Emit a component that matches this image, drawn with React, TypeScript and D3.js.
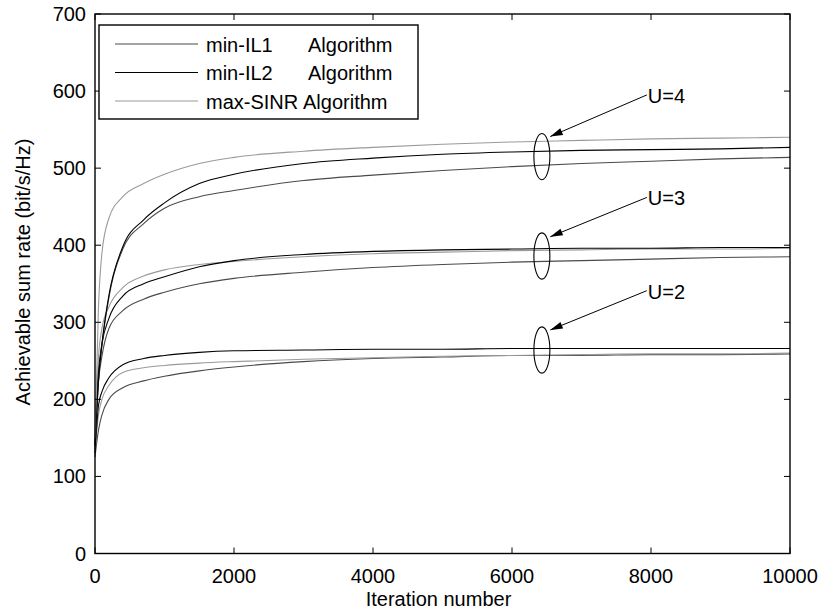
import * as d3 from "d3";

const W = 820;
const H = 611;

// iterations shared by all curves
const ITER = [0, 50, 100, 200, 400, 700, 1000, 1500, 2000, 3000, 4000, 5000, 6000, 7000, 8000, 9000, 10000];

// U = 4
const u4Sinr = [150, 320, 390, 435, 463, 480, 492, 506, 514, 522, 527, 531, 534, 536, 538, 539, 540];
const u4Il2 = [140, 225, 272, 335, 398, 433, 455, 480, 492, 506, 513, 518, 521, 523, 524, 525, 527];
const u4Il1 = [140, 224, 270, 332, 395, 428, 448, 463, 471, 484, 491, 497, 502, 506, 509, 512, 514];
// U = 3
const u3Sinr = [150, 255, 292, 320, 345, 360, 368, 375, 379, 385, 389, 391, 393, 394, 395, 395, 396];
const u3Il2 = [140, 235, 272, 305, 334, 350, 359, 372, 380, 388, 392, 394, 395, 396, 396, 397, 397];
const u3Il1 = [135, 222, 256, 292, 315, 330, 339, 350, 357, 365, 371, 375, 378, 380, 382, 384, 385];
// U = 2
const u2Sinr = [130, 180, 200, 218, 235, 241, 244, 247, 249, 252, 254, 256, 257, 258, 259, 259, 260];
const u2Il2 = [130, 192, 210, 228, 245, 253, 257, 261, 263, 264, 265, 265, 266, 266, 266, 266, 266];
const u2Il1 = [125, 160, 180, 200, 215, 224, 230, 237, 242, 249, 253, 255, 257, 257, 258, 258, 259];

const xTicks = [0, 2000, 4000, 6000, 8000, 10000];
const yTicks = [0, 100, 200, 300, 400, 500, 600, 700];

const algoNames = ["min-IL1", "min-IL2", "max-SINR"];
const algoColors = ["#4a4a4a", "#000000", "#9a9a9a"];

// annotation: label, label anchor (iter, value), arrow tip, ellipse centre value
const groupLabels = ["U=4", "U=3", "U=2"];
const labelVals = [595, 462, 341];
const tipVals = [541, 411, 290];
const ellipseVals = [515, 386, 264];
const labelIter = 7940;
const tipIter = 6550;
const ellipseIter = 6430;

const margin = { left: 95, right: 30, top: 14, bottom: 58 };

export default function App() {
  const x = d3.scaleLinear().domain([0, 10000]).range([margin.left, W - margin.right]);
  const y = d3.scaleLinear().domain([0, 700]).range([H - margin.bottom + 0.5, margin.top]);
  const line = d3
    .line<number>()
    .x((_, i) => x(ITER[i]))
    .y((d) => y(d))
    .curve(d3.curveMonotoneX);

  const series = [
    { v: u2Il1, c: 0 }, { v: u2Sinr, c: 2 }, { v: u2Il2, c: 1 },
    { v: u3Il1, c: 0 }, { v: u3Sinr, c: 2 }, { v: u3Il2, c: 1 },
    { v: u4Il1, c: 0 }, { v: u4Il2, c: 1 }, { v: u4Sinr, c: 2 },
  ];

  const x0 = x(0), x1 = x(10000), y0 = y(0), y1 = y(700);
  const tk = 6;
  const font = "'Liberation Sans', Arial, sans-serif";
  const ry = Math.abs(y(0) - y(30));

  return (
    <svg width={W} height={H} style={{ position: "absolute", left: 0, top: 0, background: "#fff" }} fontFamily={font}>
      <rect width={W} height={H} fill="#fff" />
      {series.map((s, i) => (
        <path key={i} d={line(s.v) || ""} fill="none" stroke={algoColors[s.c]} strokeWidth={1.1} />
      ))}

      {/* axes box + inward ticks */}
      <rect x={x0} y={y1} width={x1 - x0} height={y0 - y1} fill="none" stroke="#000" strokeWidth={1.4} />
      {xTicks.map((t) => (
        <g key={"x" + t}>
          <line x1={x(t)} x2={x(t)} y1={y0} y2={y0 - tk} stroke="#000" />
          <line x1={x(t)} x2={x(t)} y1={y1} y2={y1 + tk} stroke="#000" />
          <text x={x(t)} y={y0 + 29} fontSize={20} textAnchor="middle">{t}</text>
        </g>
      ))}
      {yTicks.map((t) => (
        <g key={"y" + t}>
          <line x1={x0} x2={x0 + tk} y1={y(t)} y2={y(t)} stroke="#000" />
          <line x1={x1} x2={x1 - tk} y1={y(t)} y2={y(t)} stroke="#000" />
          <text x={x0 - 9} y={y(t) + 7} fontSize={20} textAnchor="end">{t}</text>
        </g>
      ))}
      <text x={(x0 + x1) / 2 - 4} y={606} fontSize={20} textAnchor="middle">Iteration number</text>
      <text transform={`translate(30, 272) rotate(-90)`} fontSize={20} textAnchor="middle">
        Achievable sum rate (bit/s/Hz)
      </text>

      {/* group annotations */}
      {groupLabels.map((g, i) => {
        const tx = x(tipIter), ty = y(tipVals[i]);
        const lx = x(labelIter), ly = y(labelVals[i]);
        const ang = Math.atan2(ly - ty, lx - tx);
        const len = 13, half = 0.28;
        const p1 = [tx + len * Math.cos(ang + half), ty + len * Math.sin(ang + half)];
        const p2 = [tx + len * Math.cos(ang - half), ty + len * Math.sin(ang - half)];
        return (
          <g key={g}>
            <ellipse cx={x(ellipseIter)} cy={y(ellipseVals[i])} rx={8} ry={ry} fill="none" stroke="#000" strokeWidth={1.1} />
            <line x1={lx} y1={ly} x2={tx} y2={ty} stroke="#000" strokeWidth={1} />
            <path d={`M${tx},${ty}L${p1[0]},${p1[1]}L${p2[0]},${p2[1]}Z`} fill="#000" />
            <text x={lx + 1} y={ly + 8} fontSize={20}>{g}</text>
          </g>
        );
      })}

      {/* legend */}
      <rect x={99} y={25} width={319} height={94} fill="#fff" stroke="#000" strokeWidth={1.4} />
      {algoNames.map((n, i) => {
        const ly = 44 + i * 28.5;
        return (
          <g key={n}>
            <line x1={115} x2={198} y1={ly} y2={ly} stroke={algoColors[i]} strokeWidth={1.1} />
            <text x={206} y={ly + 7.5} fontSize={20}>{n}</text>
            <text x={i === 2 ? 303 : 308} y={ly + 7.5} fontSize={20}>Algorithm</text>
          </g>
        );
      })}
    </svg>
  );
}
